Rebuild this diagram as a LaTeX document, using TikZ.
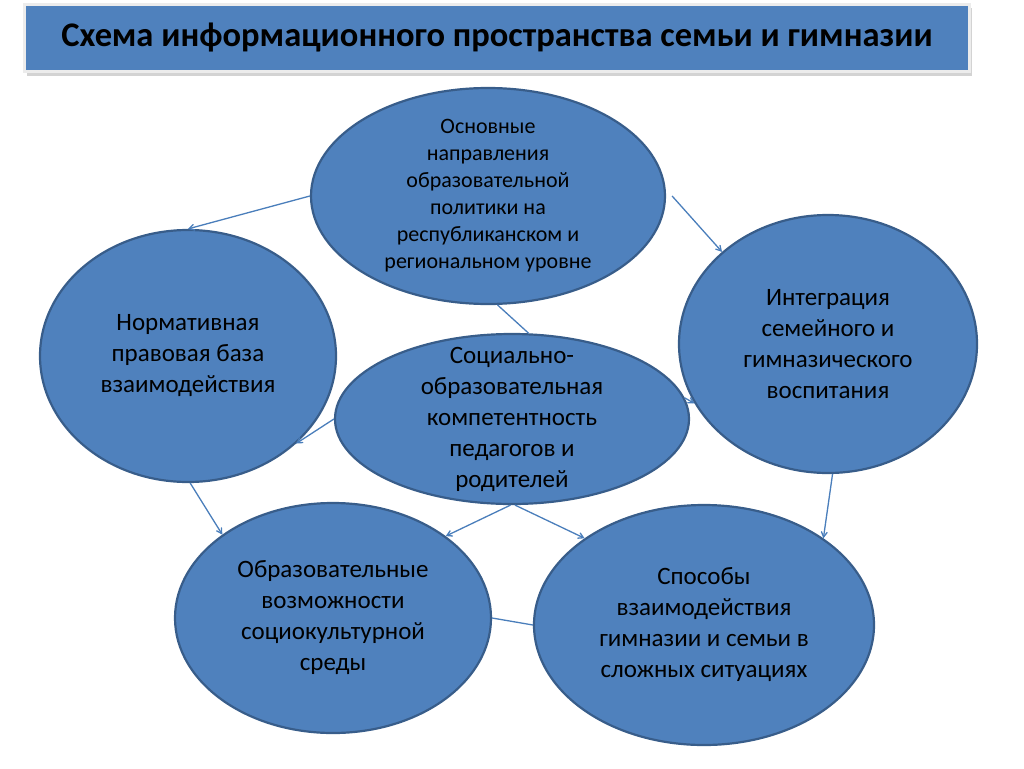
\documentclass[tikz,border=0pt]{standalone}
\usepackage{fontspec}
\setmainfont{Carlito}
\usepackage{tikz}
\usetikzlibrary{arrows, shapes, positioning, shadows}
\definecolor{slideblue}{HTML}{4F81BD}
\definecolor{slideedge}{HTML}{385D8A}
\definecolor{slideline}{HTML}{4A7EBB}
\tikzset{
         mybubble/.style={ellipse, draw=slideedge, line width=2.2pt, fill=slideblue, inner sep=0pt},
         mytext/.style={align=center, text=black, font=\fontsize{25}{31}\selectfont},
         mysmall/.style={align=center, text=black, font=\fontsize{22}{27}\selectfont},
         mytitle/.style={draw=white!85!gray, line width=2.5pt, fill=slideblue, text=black,
                         font=\fontsize{34.5}{40}\selectfont\bfseries,
                         drop shadow={shadow xshift=2pt, shadow yshift=-4pt, opacity=.35}}
      }
\begin{document}
\begin{tikzpicture}[x=1pt, y=-1pt, >=angle 60]
                  \tikzstyle{line} = [draw=slideline, line width=1.3pt, ->]
                  \useasboundingbox (0,0) rectangle (1024,768);
                  % title
                  \node[mytitle, minimum width=945pt, minimum height=67pt] (title) at (497,38)
                       {Схема информационного пространства семьи и гимназии};
                  % ellipses
                  \node[mybubble, minimum width=354pt, minimum height=216pt,
                        label={[mysmall]center:{Основные\\направления\\образовательной\\политики на\\республиканском и\\региональном уровне}}]
                        (policy) at (488,196) {};
                  \node[mybubble, minimum width=296pt, minimum height=252pt,
                        label={[mytext]center:{Нормативная\\правовая база\\взаимодействия}}]
                        (norm) at (188,356) {};
                  \node[mybubble, minimum width=298pt, minimum height=258pt,
                        label={[mytext]center:{Интеграция\\семейного и\\гимназического\\воспитания}}]
                        (integr) at (828,344) {};
                  \node[mybubble, minimum width=316pt, minimum height=230pt,
                        label={[mytext]center:{Образовательные\\возможности\\социокультурной\\среды}}]
                        (envir) at (333,618) {};
                  \node[mybubble, minimum width=340pt, minimum height=240pt,
                        label={[mytext]center:{Способы\\взаимодействия\\гимназии и семьи в\\сложных ситуациях}}]
                        (ways) at (704,625) {};
                  \node[mybubble, minimum width=354pt, minimum height=170pt,
                        label={[mytext]center:{Социально-\\образовательная\\компетентность\\педагогов и\\родителей}}]
                        (compet) at (512,419) {};
                  % connectors
                  \path [line] (policy.180) -- (norm.90);
                  \path [line] ([xshift=6pt]policy.0) -- (integr.139);
                  \path [line, -] (policy.-85) -- (compet.79);
                  \path [line] (compet.180) -- (norm.-39);
                  \path [line] (compet.7) -- (integr.204);
                  \path [line] (norm.-89) -- (envir.143);
                  \path [line] (compet.-91) -- (envir.36);
                  \path [line] (compet.-88) -- (ways.144);
                  \path [line] (integr.-88) -- (ways.36);
                  \path [line, -] (envir.0) -- (ways.180);
\end{tikzpicture}
\end{document}
